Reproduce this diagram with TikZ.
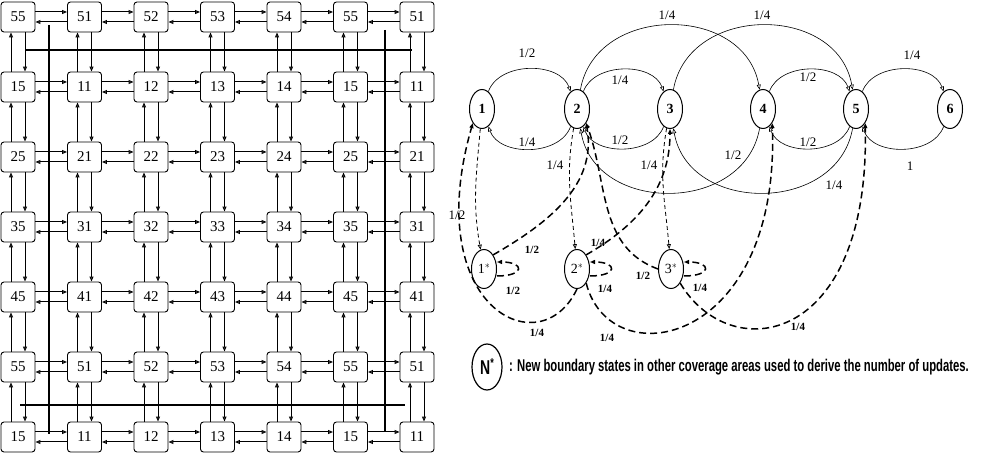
\documentclass[tikz,border=0pt]{standalone}
\usepackage{fontspec}
\setmainfont{Liberation Serif}
\newfontfamily\legfont{Liberation Sans}
\usetikzlibrary{arrows.meta,shapes.geometric}
\begin{document}
\begin{tikzpicture}[x=1pt,y=1pt,
  box/.style={draw,line width=0.9pt,rounded corners=3pt,minimum width=34pt,minimum height=30pt,fill=white,font=\fontsize{15}{15}\selectfont,inner sep=0pt},
  ga/.style={-{Triangle[open,length=5pt,width=4pt]},line width=1pt},
  st/.style={ellipse,draw,line width=1pt,minimum width=25pt,minimum height=39pt,inner sep=0pt,font=\fontsize{14}{14}\selectfont\bfseries,fill=white},
  ea/.style={-{Triangle[open,length=5pt,width=4pt]},line width=0.6pt},
  da/.style={-{Triangle[open,length=5pt,width=4pt]},line width=1.5pt,dash pattern=on 7pt off 4pt},
  td/.style={-{Triangle[open,length=5pt,width=4pt]},line width=0.8pt,dash pattern=on 4pt off 3pt},
  lb/.style={font=\fontsize{13}{13}\selectfont,inner sep=0pt},
  sl/.style={font=\fontsize{11}{11}\selectfont\bfseries,inner sep=0pt}]
\useasboundingbox (0,0) rectangle (1000,457);
% long lines
\draw[line width=1.2pt] (25,407) -- (412,407);
\draw[line width=1.2pt] (20,52) -- (405,52);
\draw[line width=1.2pt] (49,432) -- (49,23);
\draw[line width=1.2pt] (385,427) -- (385,25);
% grid
\def\rowlab{{"5","1","2","3","4","5","1"}}
\def\collab{{"5","1","2","3","4","5","1"}}
\foreach \r in {0,...,6}{
  \foreach \c in {0,...,6}{
    \pgfmathsetmacro{\xx}{18+66.5*\c}
    \pgfmathsetmacro{\yy}{440-70*\r}
    \pgfmathsetmacro{\ra}{\rowlab[\r]}
    \pgfmathsetmacro{\cb}{\collab[\c]}
    \node[box] (g-\r-\c) at (\xx,\yy) {\ra\cb};
  }
}
\foreach \r in {0,...,6}{
  \foreach \c [evaluate=\c as \d using int(\c+1)] in {0,...,5}{
    \draw[ga] ([yshift=5pt]g-\r-\c.east) -- ([yshift=5pt]g-\r-\d.west);
    \draw[ga] ([yshift=-5pt]g-\r-\d.west) -- ([yshift=-5pt]g-\r-\c.east);
  }
}
\foreach \c in {0,...,6}{
  \foreach \r [evaluate=\r as \s using int(\r+1)] in {0,...,5}{
    \draw[ga] ([xshift=-7pt]g-\s-\c.north) -- ([xshift=-7pt]g-\r-\c.south);
    \draw[ga] ([xshift=7pt]g-\r-\c.south) -- ([xshift=7pt]g-\s-\c.north);
  }
}
% states
\node[st] (n1) at (482,348) {1};
\node[st] (n2) at (577,348) {2};
\node[st] (n3) at (670,348) {3};
\node[st] (n4) at (763,348) {4};
\node[st] (n5) at (856,348) {5};
\node[st] (n6) at (950,348) {6};
\node[st,font=\fontsize{14}{14}\selectfont] (s1) at (484,188) {1$^{*}$};
\node[st,font=\fontsize{14}{14}\selectfont] (s2) at (577,188) {2$^{*}$};
\node[st,font=\fontsize{14}{14}\selectfont] (s3) at (671,188) {3$^{*}$};
% solid edges
\draw[ea] (n1) to[out=70,in=110] (n2);
\draw[ea] (n2) to[out=-110,in=-70] (n1);
\draw[ea] (n2) to[out=70,in=110] (n3);
\draw[ea] (n3) to[out=-110,in=-70] (n2);
\draw[ea] (n4) to[out=70,in=110] (n5);
\draw[ea] (n5) to[out=-110,in=-70] (n4);
\draw[ea] (n5) to[out=70,in=110] (n6);
\draw[ea] (n6) to[out=-110,in=-70] (n5);
\draw[ea] (n2) to[out=80,in=100,looseness=1.25] (n4);
\draw[ea] (n3) to[out=80,in=100,looseness=1.25] (n5);
\draw[ea] (n4) to[out=-100,in=-80,looseness=1.25] (n2);
\draw[ea] (n5) to[out=-100,in=-80,looseness=1.25] (n3);
% dashed edges
\draw[td] (n1) to[out=-95,in=100] (s1);
\draw[td] (n2) to[out=-100,in=95] (s2);
\draw[td] (n3) to[out=-100,in=95] (s3);
\draw[da] (s2.south) .. controls (540,90) and (420,150) .. (n1.south west);
\draw[da] (s1.north east) to[out=30,in=-80] (n2.south east);
\draw[da] (s2.north east) to[out=30,in=-90] (n3.south);
\draw[da] (s3.west) to[out=160,in=-70] (n2.south east);
\draw[da] (s2.south east) .. controls (610,80) and (780,110) .. (n4.south east);
\draw[da] (s3.south east) .. controls (730,90) and (870,110) .. (n5.south east);
\foreach \s in {s1,s2,s3}{
  \draw[da] ([yshift=-7pt]\s.east) .. controls +(28,0) and +(28,0) .. ([yshift=7pt]\s.east);
}
% labels
\node[lb] (l1) at (527,404) {1/2};
\node[lb] (l2) at (527,315) {1/4};
\node[lb] (l3) at (620,377) {1/4};
\node[lb] (l4) at (620,317) {1/2};
\node[lb] (l5) at (667,442) {1/4};
\node[lb] (l6) at (762,442) {1/4};
\node[lb] (l7) at (808,380) {1/2};
\node[lb] (l8) at (808,315) {1/2};
\node[lb] (l9) at (912,402) {1/4};
\node[lb] (l10) at (910,291) {1};
\node[lb] (l11) at (733,302) {1/2};
\node[lb] (l12) at (834,272) {1/4};
\node[lb] (l13) at (555,292) {1/4};
\node[lb] (l14) at (649,292) {1/4};
\node[lb] (l15) at (457,242) {1/2};
\node[sl] (m1) at (532,207) {1/2};
\node[sl] (m2) at (513,166) {1/2};
\node[sl] (m3) at (598,214) {1/4};
\node[sl] (m4) at (605,168) {1/4};
\node[sl] (m5) at (643,181) {1/2};
\node[sl] (m6) at (700,169) {1/4};
\node[sl] (m7) at (537,124) {1/4};
\node[sl] (m8) at (607,119) {1/4};
\node[sl] (m9) at (798,130) {1/4};
% legend
\node[ellipse,draw,line width=1.2pt,minimum width=30pt,minimum height=46pt,inner sep=0pt] (leg) at (487,90) {\legfont\fontsize{20}{20}\selectfont\bfseries\scalebox{0.7}[1]{N\raisebox{7pt}{\fontsize{13}{13}\selectfont *}}};
\node[anchor=west,inner sep=0pt] (legt) at (509,90) {\legfont\fontsize{17}{17}\selectfont\bfseries\scalebox{0.665}[1]{: New boundary states in other coverage areas used to derive the number of updates.}};
\end{tikzpicture}
\end{document}
